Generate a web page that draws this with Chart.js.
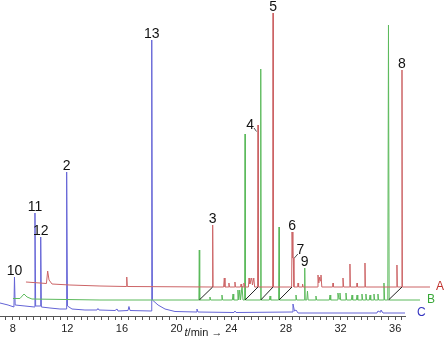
<!DOCTYPE html>
<html>
<head>
<meta charset="utf-8">
<script src="https://cdn.jsdelivr.net/npm/chart.js@4.4.1/dist/chart.umd.min.js"></script>
<style>
  html, body { margin: 0; padding: 0; background: #fff; }
  canvas { display: block; }
</style>
</head>
<body>
<canvas id="chrom" width="444" height="339"></canvas>
<script>
// retention time axis (min)
const xMin = 7.07;
const xMax = 36.72;
const tickLabels = [8, 12, 16, 20, 24, 28, 32, 36];
const minorStep = 0.5;

// trace A (red)
const aTime = [8.97, 10.00, 10.47, 10.56, 10.66, 10.88, 12.19, 14.39, 16.31, 16.35, 16.39, 22.61, 22.64, 22.67,
  23.44, 23.49, 23.54, 23.80, 23.83, 23.87, 24.23, 24.27, 24.31, 24.68, 24.72, 24.76, 24.90, 24.93, 24.97,
  25.26, 25.30, 25.36, 25.50, 25.55, 25.65, 25.71, 25.93, 25.96, 25.99, 27.03, 27.06, 27.09,
  28.42, 28.45, 28.51, 28.54, 28.59, 28.86, 28.89, 28.93, 29.19, 29.22, 29.26,
  30.31, 30.35, 30.41, 30.48, 30.53, 30.57, 30.63, 31.42, 31.45, 31.48, 32.14, 32.18, 32.23,
  32.66, 32.69, 32.72, 33.18, 33.21, 33.24, 33.76, 33.79, 33.82, 36.10, 36.13, 36.16, 36.47, 36.50, 36.53, 38.55];
const aSignal = [34, 33, 32.5, 45, 36, 32, 31, 30, 29.5, 39, 29.5, 29, 91, 29,
  29, 38, 29, 29, 33, 29, 29, 34, 29, 29, 32, 29, 29, 33, 29,
  29, 38, 32, 38, 31, 38, 29, 29, 191, 29, 29, 303, 29,
  29, 84, 58, 58, 29, 29, 33, 29, 29, 32, 29,
  29, 41, 33, 39, 35, 41, 29, 29, 33, 29, 29, 38, 29,
  29, 52, 29, 29, 33, 29, 29, 53, 29, 29, 51, 29, 29, 246, 29, 29];

// trace B (green)
const bTime = [8.02, 8.53, 8.83, 9.05, 9.41, 14.39, 21.63, 21.66, 21.69, 22.39, 22.44, 22.49,
  23.27, 23.32, 23.37, 24.08, 24.13, 24.18, 24.44, 24.49, 24.55, 24.62, 24.68, 24.79, 24.86,
  24.98, 25.01, 25.04, 26.13, 26.16, 26.19, 26.79, 26.84, 26.89, 27.47, 27.50, 27.53,
  28.69, 28.74, 28.79, 29.35, 29.38, 29.41, 29.53, 29.58, 29.63, 30.15, 30.20, 30.25,
  31.18, 31.23, 31.28, 31.76, 31.81, 31.89, 31.96, 32.01, 32.35, 32.40, 32.45,
  32.79, 32.84, 32.89, 33.16, 33.21, 33.26, 33.52, 33.57, 33.62, 33.81, 33.86, 33.91,
  34.11, 34.16, 34.21, 34.40, 34.45, 34.50, 34.69, 34.74, 34.79, 35.13, 35.18, 35.23,
  35.46, 35.51, 35.56, 37.82];
const bSignal = [17.5, 17.5, 22, 19, 17, 16, 16, 66, 16, 16, 19, 16,
  16, 21, 16, 16, 22, 16, 16, 26, 16, 26, 16, 30, 16,
  16, 182, 16, 16, 247, 16, 16, 20, 16, 16, 89, 16,
  16, 21, 16, 16, 48, 16, 16, 25, 16, 16, 20, 16,
  16, 21, 16, 16, 23, 17, 23, 16, 16, 23, 16,
  16, 21, 16, 16, 21, 16, 16, 22, 16, 16, 22, 16,
  16, 21, 16, 16, 22, 16, 16, 22, 16, 16, 33, 16,
  16, 291, 16, 16];

// trace C (blue)
const cTime = [7.07, 7.66, 8.09, 8.13, 8.18, 8.90, 9.59, 9.63, 9.68, 10.01, 10.05, 10.10, 10.73,
  11.46, 11.91, 11.95, 12.01, 12.34, 13.29, 14.17, 14.24, 14.32, 15.49, 15.64, 15.71,
  16.44, 16.51, 16.59, 18.14, 18.18, 18.23, 18.64, 19.15, 19.88, 21.42, 21.49, 21.57,
  24.20, 24.27, 24.35, 28.45, 28.52, 28.63, 28.74, 28.89, 34.67, 34.74, 34.89, 34.96, 35.11, 36.72];
const cSignal = [13, 11, 9, 39, 11, 10, 9, 103, 10, 10, 79, 9, 8,
  7, 7, 144, 10, 7, 6, 6, 7.5, 6, 5.5, 7, 5,
  5.5, 9.5, 5.5, 5, 276, 16, 11, 7, 4.5, 4, 7, 4,
  3.5, 5, 3.5, 4, 12, 5, 6, 3, 3, 5, 4, 6, 3, 3];

// peaks of B matched to peaks of A
const linkFrom = [21.66, 25.01, 26.16, 27.50, 35.51];
const linkTo = [22.64, 25.96, 27.06, 28.45, 36.50];

// numbered peaks
const peakText = ['10', '11', '12', '2', '13', '3', '4', '5', '6', '7', '8', '9'];
const peakTrace = ['C', 'C', 'C', 'C', 'C', 'A', 'A', 'A', 'A', 'A', 'A', 'B'];
const peakTime = [8.13, 9.63, 10.05, 11.95, 18.18, 22.64, 25.96, 27.06, 28.45, 28.51, 36.50, 29.38];

const traceNames = ['A', 'B', 'C'];

const colors = { A: '#cc6466', B: '#5cba5c', C: '#6464d6' };
const labelColors = { A: '#c0302c', B: '#38a838', C: '#3434c0' };
const traces = {
  A: { t: aTime, v: aSignal },
  B: { t: bTime, v: bSignal },
  C: { t: cTime, v: cSignal }
};

const toPoints = (ts, vs) => ts.map((t, i) => ({ x: t, y: vs[i] }));

const linkPoints = [];
linkFrom.forEach((t, i) => {
  linkPoints.push({ x: t, y: bSignal[bTime.indexOf(t) - 1] });
  linkPoints.push({ x: linkTo[i], y: aSignal[aTime.indexOf(linkTo[i]) - 1] });
  linkPoints.push({ x: linkTo[i], y: null });
});

const minorTicks = [];
for (let v = Math.ceil(xMin / minorStep) * minorStep; v <= xMax; v += minorStep) minorTicks.push(v);

const FONT = '"Liberation Sans", Arial, sans-serif';

const annotate = {
  id: 'annotate',
  afterDatasetsDraw(chart) {
    const { ctx, scales: { x, y } } = chart;
    ctx.save();
    ctx.fillStyle = '#111';
    ctx.strokeStyle = '#222';
    ctx.lineWidth = 0.8;
    ctx.font = '14px ' + FONT;
    ctx.textAlign = 'center';
    ctx.textBaseline = 'alphabetic';
    peakText.forEach((txt, i) => {
      const tr = traces[peakTrace[i]];
      const k = tr.t.indexOf(peakTime[i]);
      const px = x.getPixelForValue(peakTime[i]);
      const py = y.getPixelForValue(tr.v[k]);
      if (txt === '4') {
        ctx.fillText(txt, px - 8, py + 4);
        ctx.beginPath(); ctx.moveTo(px - 4, py + 3); ctx.lineTo(px - 1.5, py + 6.5); ctx.stroke();
      } else if (txt === '7') {
        ctx.fillText(txt, px + 7.5, py - 4);
        ctx.beginPath(); ctx.moveTo(px + 5, py - 4); ctx.lineTo(px + 1.5, py); ctx.stroke();
      } else {
        ctx.fillText(txt, px, py - 2);
      }
    });

    // trace names at the right end of each trace
    const gaps = { A: 6, B: 7, C: 12 };
    ctx.font = '12px ' + FONT;
    ctx.textAlign = 'left';
    ctx.textBaseline = 'middle';
    traceNames.forEach(n => {
      const tr = traces[n];
      const last = tr.t.length - 1;
      ctx.fillStyle = labelColors[n];
      ctx.fillText(n, x.getPixelForValue(tr.t[last]) + gaps[n], y.getPixelForValue(tr.v[last]));
    });

    // axis title: t/min ->
    ctx.fillStyle = '#222';
    ctx.textBaseline = 'middle';
    const cx = (chart.chartArea.left + chart.chartArea.right) / 2;
    const ty = chart.chartArea.bottom + 17;
    ctx.font = 'italic 11px ' + FONT;
    const w1 = ctx.measureText('t').width;
    ctx.font = '11px ' + FONT;
    const rest = '/min \u2192';
    const w2 = ctx.measureText(rest).width;
    let sx = cx - (w1 + w2) / 2 + 1;
    ctx.font = 'italic 11px ' + FONT;
    ctx.fillText('t', sx, ty);
    ctx.font = '11px ' + FONT;
    ctx.fillText(rest, sx + w1, ty);
    ctx.restore();
  }
};

const lineSet = (n) => ({
  label: n,
  data: toPoints(traces[n].t, traces[n].v),
  borderColor: colors[n],
  borderWidth: 1,
  pointRadius: 0,
  tension: 0,
  fill: false,
  clip: false
});

new Chart(document.getElementById('chrom'), {
  type: 'line',
  data: {
    datasets: [
      {
        label: 'links',
        data: linkPoints,
        borderColor: '#222',
        borderWidth: 1,
        pointRadius: 0,
        spanGaps: false,
        clip: false
      },
      lineSet('A'),
      lineSet('B'),
      lineSet('C')
    ]
  },
  options: {
    responsive: false,
    animation: false,
    devicePixelRatio: 1,
    layout: { padding: { left: 0, right: 39, top: 0, bottom: 0 } },
    plugins: { legend: { display: false }, tooltip: { enabled: false } },
    scales: {
      x: {
        type: 'linear',
        min: xMin,
        max: xMax,
        border: { display: true, color: '#555', width: 1 },
        grid: { drawOnChartArea: false, drawTicks: true, tickLength: 4, color: '#555' },
        ticks: {
          autoSkip: false,
          maxRotation: 0,
          padding: 2,
          color: '#222',
          font: { family: FONT, size: 11 },
          callback: (v) => tickLabels.includes(v) ? String(v) : ''
        },
        afterBuildTicks: (s) => { s.ticks = minorTicks.map(v => ({ value: v })); },
        afterFit: (s) => { s.height = 23; }
      },
      y: { display: false, min: 0, max: 316 }
    }
  },
  plugins: [annotate]
});
</script>
</body>
</html>
